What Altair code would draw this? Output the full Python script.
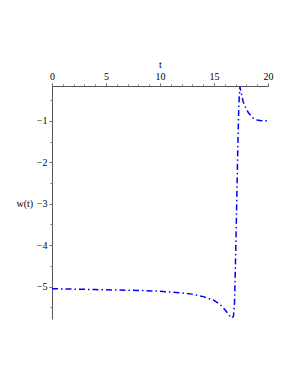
import altair as alt
import pandas as pd

t_vals = [0, 2, 4, 6, 8, 10, 12, 13, 14, 15, 15.6, 16.0, 16.3, 16.5, 16.65,
          16.8, 16.9, 17.0, 17.1, 17.2, 17.3, 17.4, 17.5, 17.7, 17.95, 18.2,
          18.6, 19.0, 19.4, 20]
w_vals = [-5.05, -5.06, -5.07, -5.08, -5.09, -5.11, -5.15, -5.18, -5.24, -5.33,
          -5.44, -5.55, -5.65, -5.72, -5.76,
          -5.72, -5.4, -4.3, -3.0, -1.7, -0.6, -0.18, -0.3, -0.54, -0.7, -0.81,
          -0.93, -0.98, -1.0, -1.0]
x_major = [0, 5, 10, 15, 20]
x_minor = list(range(0, 21))
y_major = [-1, -2, -3, -4, -5]
y_minor = [-0.5, -1, -1.5, -2, -2.5, -3, -3.5, -4, -4.5, -5, -5.5]

df = pd.DataFrame({"t": t_vals, "w": w_vals})

FONT = "Liberation Serif"
FS = 10
xscale = alt.Scale(domain=[0, 20], nice=False, zero=False)
yscale = alt.Scale(domain=[-5.78, -0.16], nice=False, zero=False)

line = alt.Chart(df).mark_line(
    color="#0000ff", strokeWidth=1.5, strokeDash=[6, 3, 1.5, 3], clip=True
).encode(
    x=alt.X("t:Q", scale=xscale, axis=alt.Axis(
        orient="top", values=x_major, title="t", titleFont=FONT,
        titleFontWeight="normal", titleFontSize=FS, titlePadding=2,
        labelFont=FONT, labelFontSize=FS, labelPadding=2, tickSize=3,
        domainColor="#555555", tickColor="#555555", labelColor="black",
        titleColor="black", grid=False, labelFlush=False)),
    y=alt.Y("w:Q", scale=yscale, axis=alt.Axis(
        orient="left", values=y_major, title="w(t)", titleFont=FONT,
        titleFontWeight="normal", titleFontSize=FS, titleAngle=0,
        titleAlign="left", titleBaseline="middle", titleX=-36, titleY=117,
        titleColor="black",
        labelFont=FONT, labelFontSize=FS, labelPadding=2,
        tickSize=3, domainColor="#555555", tickColor="#555555",
        labelColor="black", grid=False)),
    order=alt.Order("t:Q"),
)

minor_x = alt.Chart(pd.DataFrame({"t": x_minor})).mark_point(opacity=0).encode(
    x=alt.X("t:Q", scale=xscale, axis=alt.Axis(
        orient="top", values=x_minor, labels=False, title=None, tickSize=2,
        domain=False, tickColor="#777777", grid=False)),
)
minor_y = alt.Chart(pd.DataFrame({"w": y_minor})).mark_point(opacity=0).encode(
    y=alt.Y("w:Q", scale=yscale, axis=alt.Axis(
        orient="left", values=y_minor, labels=False, title=None, tickSize=2,
        domain=False, tickColor="#777777", grid=False)),
)

chart = alt.layer(line, minor_x, minor_y).resolve_axis(
    x="independent", y="independent"
).properties(
    width=216, height=233,
    autosize=alt.AutoSizeParams(type="none"),
    padding={"left": 44, "top": 78, "right": 10, "bottom": 10},
).configure_view(stroke=None)

chart.save("out.html", embed_options={"renderer": "svg", "actions": False})
